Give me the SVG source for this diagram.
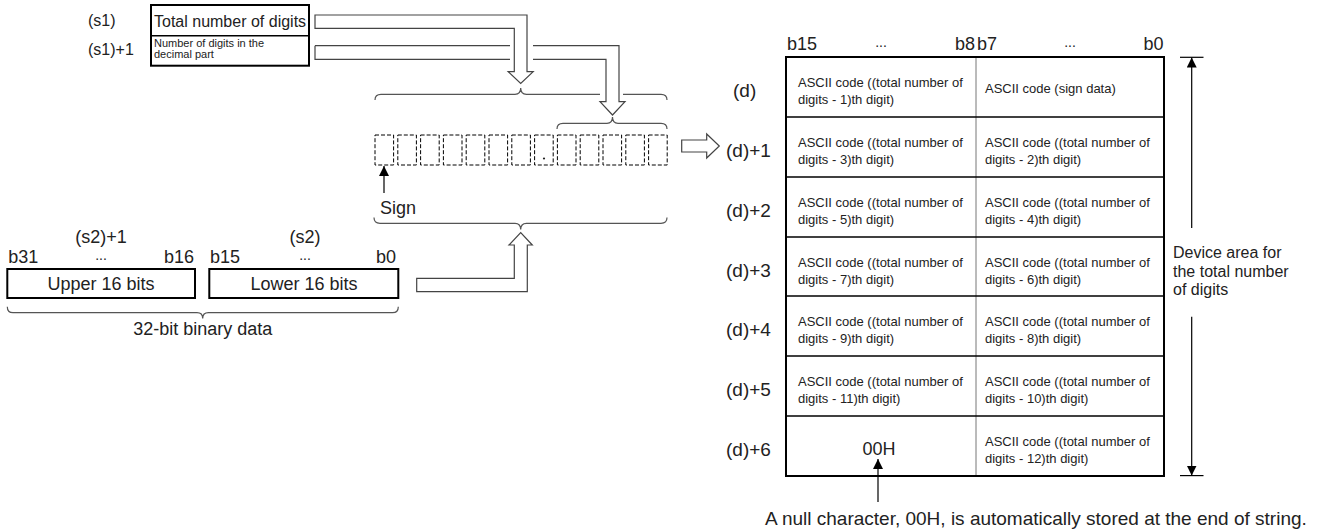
<svg xmlns="http://www.w3.org/2000/svg" width="1320" height="532" viewBox="0 0 1320 532">
<defs>
<style>
text{font-family:"Liberation Sans",Arial,sans-serif;fill:#222}
.lb{font-size:18px}
.md{font-size:16px}
.dl{font-size:19px}
.sm{font-size:13px}
.xs{font-size:11px}
.dots{font-size:14px}
.mid{text-anchor:middle}
.end{text-anchor:end}
.box{fill:#fff;stroke:#000;stroke-width:2}
.bar{fill:#fff;stroke:#444;stroke-width:1.2}
.brace{fill:none;stroke:#555;stroke-width:1.2}
.dash{fill:none;stroke:#000;stroke-width:1;stroke-dasharray:4 2}
.ln{stroke:#000;stroke-width:1.2;fill:none}
.row{stroke:#000;stroke-width:1.5}
</style>
<marker id="ah" viewBox="0 0 10 10" refX="10" refY="5" markerWidth="10" markerHeight="10" markerUnits="userSpaceOnUse" orient="auto"><path d="M0,0 L10,5 L0,10 z" fill="#000"/></marker>
</defs>
<rect width="1320" height="532" fill="#fff"/>

<g id="connectors">
<path class="bar" d="M315,45.7 H510 M533,45.7 H619 V101.7 H625 L612.5,115 L600,101.7 H606 V59.3 H533 M510,59.3 H315 V45.7"/>
<path class="bar" d="M315,15 H527 V71.7 H533.2 L520.7,83.5 L508.2,71.7 H514.3 V28.3 H315 Z"/>
<path class="brace" d="M375,100 Q375,94.3 381,94.3 H515 Q520.7,94.3 520.7,88 Q520.7,94.3 526.4,94.3 H600 M623,94.3 H661 Q667,94.3 667,100"/>
<path class="brace" d="M557,129 Q557,123.3 563,123.3 H607 Q612.5,123.3 612.5,117 Q612.5,123.3 618,123.3 H661 Q667,123.3 667,129"/>
<path class="brace" d="M374,217.5 Q374,223.3 380,223.3 H515 Q520.7,223.3 520.7,229.5 Q520.7,223.3 526.4,223.3 H661 Q667,223.3 667,217.5"/>
<path class="brace" d="M7.3,306.7 Q7.3,312.7 13,312.7 H197 Q202.7,312.7 202.7,318.5 Q202.7,312.7 208.4,312.7 H392.6 Q398.3,312.7 398.3,306.7"/>
<path class="bar" d="M416.7,278.3 H514.3 V245 H509 L520.7,232.7 L532.3,245 H527.3 V291.7 H416.7 Z"/>
<path class="bar" d="M681.7,140 H706.7 V134 L719.3,146 L706.7,158 V152 H681.7 Z"/>
<line class="ln" x1="384" y1="193" x2="384" y2="166" marker-end="url(#ah)"/>
<line class="ln" x1="878" y1="502" x2="878" y2="459" marker-end="url(#ah)"/>
<line class="ln" x1="1191.7" y1="228" x2="1191.7" y2="57.5" marker-end="url(#ah)"/>
<line class="ln" x1="1191.7" y1="316.7" x2="1191.7" y2="475.5" marker-end="url(#ah)"/>
<line class="ln" x1="1180" y1="57.3" x2="1203.5" y2="57.3"/>
<line class="ln" x1="1180" y1="475.6" x2="1203.5" y2="475.6"/>
</g>

<g id="s1-block">
<text class="md" x="88" y="26">(s1)</text>
<text class="md" x="88" y="55">(s1)+1</text>
<rect class="box" x="151" y="5" width="158" height="60.7"/>
<line class="row" x1="151" y1="35.7" x2="309" y2="35.7"/>
<text class="md" x="154" y="26.5">Total number of digits</text>
<text class="xs" x="154" y="47">Number of digits in the</text>
<text class="xs" x="154" y="58">decimal part</text>
</g>

<g id="digit-string">
<rect class="dash" x="375" y="135" width="18.6" height="30"/>
<rect class="dash" x="397.8" y="135" width="18.6" height="30"/>
<rect class="dash" x="420.6" y="135" width="18.6" height="30"/>
<rect class="dash" x="443.4" y="135" width="18.6" height="30"/>
<rect class="dash" x="466.2" y="135" width="18.6" height="30"/>
<rect class="dash" x="489" y="135" width="18.6" height="30"/>
<rect class="dash" x="511.8" y="135" width="18.6" height="30"/>
<rect class="dash" x="534.6" y="135" width="18.6" height="30"/>
<rect class="dash" x="557.4" y="135" width="18.6" height="30"/>
<rect class="dash" x="580.2" y="135" width="18.6" height="30"/>
<rect class="dash" x="603" y="135" width="18.6" height="30"/>
<rect class="dash" x="625.8" y="135" width="18.6" height="30"/>
<rect class="dash" x="648.6" y="135" width="18.6" height="30"/>
<circle cx="544" cy="158.5" r="1.1" fill="#222"/>
<text class="lb" x="380" y="214">Sign</text>
</g>

<g id="s2-block">
<text class="lb mid" x="101" y="243">(s2)+1</text>
<text class="lb mid" x="305" y="243">(s2)</text>
<text class="lb" x="8.3" y="263">b31</text>
<text class="dots mid" x="101" y="260">...</text>
<text class="lb end" x="194" y="263">b16</text>
<text class="lb" x="210" y="263">b15</text>
<text class="dots mid" x="305" y="260">...</text>
<text class="lb end" x="396" y="263">b0</text>
<rect class="box" x="7.3" y="269" width="187.7" height="29"/>
<rect class="box" x="209.3" y="269" width="189" height="29"/>
<text class="lb mid" x="101" y="290">Upper 16 bits</text>
<text class="lb mid" x="304" y="290">Lower 16 bits</text>
<text class="lb mid" x="202.7" y="335">32-bit binary data</text>
</g>

<g id="d-table">
<text class="lb" x="787" y="49.5">b15</text>
<text class="dots mid" x="881" y="47">...</text>
<text class="lb end" x="975" y="49.5">b8</text>
<text class="lb" x="977" y="49.5">b7</text>
<text class="dots mid" x="1070" y="47">...</text>
<text class="lb end" x="1163.5" y="49.5">b0</text>
<line x1="976" y1="57" x2="976" y2="476" stroke="#777" stroke-width="1"/>
<line class="row" x1="786" y1="117" x2="1164" y2="117"/>
<line class="row" x1="786" y1="177" x2="1164" y2="177"/>
<line class="row" x1="786" y1="237" x2="1164" y2="237"/>
<line class="row" x1="786" y1="296" x2="1164" y2="296"/>
<line class="row" x1="786" y1="356" x2="1164" y2="356"/>
<line class="row" x1="786" y1="416" x2="1164" y2="416"/>
<rect x="786" y="57" width="378" height="419" fill="none" stroke="#000" stroke-width="2"/>

<text class="dl" x="733" y="97">(d)</text>
<text class="dl" x="726" y="157">(d)+1</text>
<text class="dl" x="726" y="217">(d)+2</text>
<text class="dl" x="726" y="277">(d)+3</text>
<text class="dl" x="726" y="336">(d)+4</text>
<text class="dl" x="726" y="396">(d)+5</text>
<text class="dl" x="726" y="456">(d)+6</text>

<text class="sm" x="798" y="87">ASCII code ((total number of</text>
<text class="sm" x="798" y="103.5">digits - 1)th digit)</text>
<text class="sm" x="985" y="93">ASCII code (sign data)</text>

<text class="sm" x="798" y="147">ASCII code ((total number of</text>
<text class="sm" x="798" y="163.5">digits - 3)th digit)</text>
<text class="sm" x="985" y="147">ASCII code ((total number of</text>
<text class="sm" x="985" y="163.5">digits - 2)th digit)</text>

<text class="sm" x="798" y="207">ASCII code ((total number of</text>
<text class="sm" x="798" y="223.5">digits - 5)th digit)</text>
<text class="sm" x="985" y="207">ASCII code ((total number of</text>
<text class="sm" x="985" y="223.5">digits - 4)th digit)</text>

<text class="sm" x="798" y="267">ASCII code ((total number of</text>
<text class="sm" x="798" y="283.5">digits - 7)th digit)</text>
<text class="sm" x="985" y="267">ASCII code ((total number of</text>
<text class="sm" x="985" y="283.5">digits - 6)th digit)</text>

<text class="sm" x="798" y="326">ASCII code ((total number of</text>
<text class="sm" x="798" y="342.5">digits - 9)th digit)</text>
<text class="sm" x="985" y="326">ASCII code ((total number of</text>
<text class="sm" x="985" y="342.5">digits - 8)th digit)</text>

<text class="sm" x="798" y="386">ASCII code ((total number of</text>
<text class="sm" x="798" y="402.5">digits - 11)th digit)</text>
<text class="sm" x="985" y="386">ASCII code ((total number of</text>
<text class="sm" x="985" y="402.5">digits - 10)th digit)</text>

<text class="lb mid" x="879" y="455">00H</text>
<text class="sm" x="985" y="446">ASCII code ((total number of</text>
<text class="sm" x="985" y="462.5">digits - 12)th digit)</text>
</g>

<g id="device-area-label">
<text class="md" x="1173" y="258">Device area for</text>
<text class="md" x="1173" y="276.5">the total number</text>
<text class="md" x="1173" y="295">of digits</text>
</g>

<g id="null-note">
<text x="765" y="525" style="font-size:19px">A null character, 00H, is automatically stored at the end of string.</text>
</g>
</svg>
